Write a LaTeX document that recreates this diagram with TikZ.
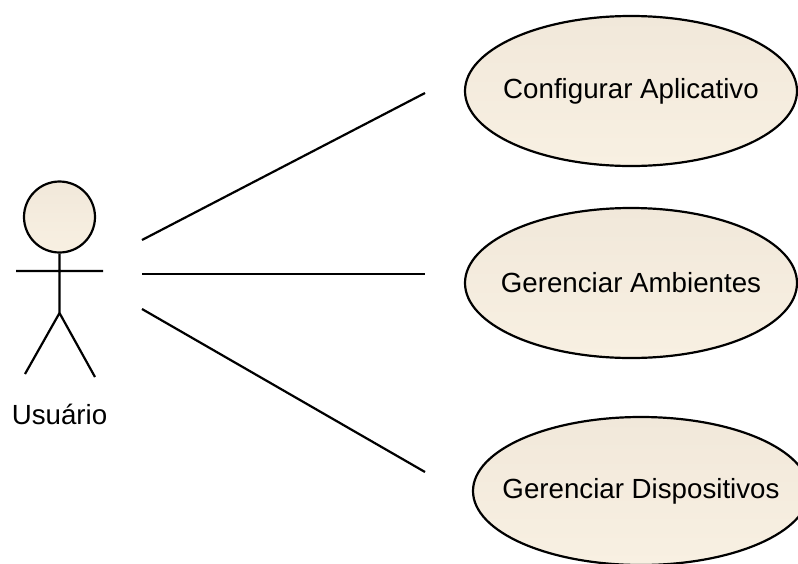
\documentclass[tikz,border=0pt]{standalone}
\usepackage{fontspec}
\setmainfont{Liberation Sans}
\usepackage{tikz}
\usetikzlibrary{shapes}

\begin{document}
\begin{tikzpicture}[x=1pt,y=-1pt,line width=2.2pt,font=\fontsize{27.7}{32}\selectfont]
\tikzstyle{usecase}=[ellipse,draw=black,top color=usetop,bottom color=usebottom,inner sep=0pt,minimum width=332pt,minimum height=150pt]
\definecolor{usetop}{HTML}{F1E8DA}
\definecolor{usebottom}{HTML}{F8F0E2}
\useasboundingbox (0,0) rectangle (798,563);
\node[usecase,label=center:{Configurar Aplicativo}] (C) at (631,91) {};
\node[usecase,label=center:{Gerenciar Ambientes}] (A) at (631,283) {};
\node[usecase,minimum width=336pt,minimum height=148pt,label=center:{Gerenciar Dispositivos}] (D) at (641,491) {};
\node[circle,draw=black,top color=usetop,bottom color=usebottom,inner sep=0pt,minimum size=71pt] (H) at (59.5,217) {};
\node (U) at (59.5,414) {Usuário};
% boneco
\coordinate (W) at (16,271);
\coordinate (E) at (103,271);
\coordinate (Q) at (59.5,313);
\coordinate (L) at (25,374);
\coordinate (R) at (95,377);
\path[draw] (H.south) -- (Q) (W) -- (E) (L) -- (Q) -- (R);
% ligacoes
\coordinate (A1) at (142,240);
\coordinate (A2) at (142,274);
\coordinate (A3) at (142,309);
\coordinate (B1) at (425,93);
\coordinate (B2) at (425,274);
\coordinate (B3) at (425,472);
\path (A1) edge (B1)
      (A2) edge (B2)
      (A3) edge (B3);
\end{tikzpicture}
\end{document}
